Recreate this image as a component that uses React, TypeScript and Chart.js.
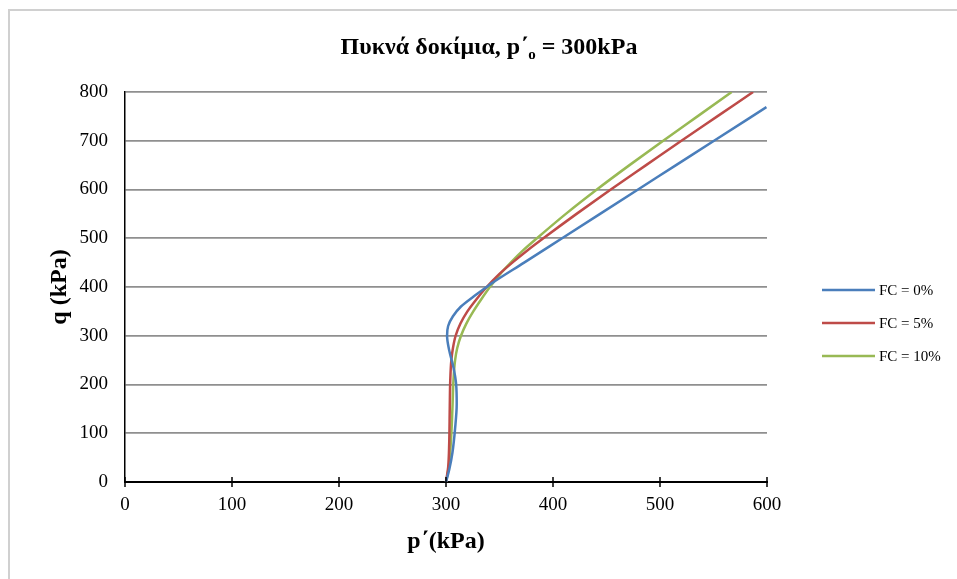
import React, { useEffect, useRef } from 'react';
import { Chart, registerables } from 'chart.js';

Chart.register(...registerables);

const FONT = "'Liberation Serif', 'Times New Roman', serif";

const seriesLabels = ['FC = 0%', 'FC = 5%', 'FC = 10%'];
const seriesColors = ['#4a7ebb', '#be4b48', '#98b954'];

// p' (kPa) and q (kPa) for each series
const pFC0 = [300, 303, 306, 308.5, 310, 309.5, 307, 303, 301, 302, 306.5, 314, 325.5, 338, 343, 373, 408.5, 444, 479.5, 515, 550.5, 599.5];
const qFC0 = [0, 25, 60, 110, 160, 200, 235, 270, 300, 320, 340, 360, 380, 400, 408, 450, 500, 550, 600, 650, 700, 769];

const pFC5 = [300, 302, 303, 303.5, 304, 305, 306.5, 309, 313.5, 320, 328.5, 338, 349, 362, 376, 391, 422, 454, 487, 520, 553.5, 587];
const qFC5 = [0, 30, 80, 150, 210, 250, 275, 300, 325, 350, 375, 400, 425, 450, 475, 500, 550, 600, 650, 700, 750, 800];

const pFC10 = [300, 302.5, 304.5, 306, 307, 308.5, 310.5, 314, 319, 325.5, 333, 341, 350, 360.5, 372, 385, 412, 441, 471.5, 503, 535, 567];
const qFC10 = [0, 30, 80, 150, 210, 250, 275, 300, 325, 350, 375, 400, 425, 450, 475, 500, 550, 600, 650, 700, 750, 800];

const xMin = 0, xMax = 600, xStep = 100;
const yMin = 0, yMax = 800, yStep = 100;

const titleMain = 'Πυκνά δοκίμια, p΄';
const titleSub = 'o';
const titleEnd = ' = 300kPa';
const xTitle = 'p΄(kPa)';
const yTitle = 'q (kPa)';

const toPoints = (p: number[], q: number[]) => p.map((v, i) => ({ x: v, y: q[i] }));

const decorPlugin = {
  id: 'decor',
  afterDraw(chart: any) {
    const { ctx, chartArea, scales } = chart;
    ctx.save();
    // crossing tick marks on x axis
    ctx.strokeStyle = '#000';
    ctx.lineWidth = 1.5;
    const xs = scales.x;
    xs.ticks.forEach((t: any) => {
      const px = xs.getPixelForValue(t.value);
      ctx.beginPath();
      ctx.moveTo(px, chartArea.bottom - 5);
      ctx.lineTo(px, chartArea.bottom + 5);
      ctx.stroke();
    });

    // title with subscript
    const mainFont = `bold 24px ${FONT}`;
    const subFont = `bold 15px ${FONT}`;
    ctx.fillStyle = '#000';
    ctx.textBaseline = 'alphabetic';
    ctx.font = mainFont;
    const w1 = ctx.measureText(titleMain).width;
    const w3 = ctx.measureText(titleEnd).width;
    ctx.font = subFont;
    const w2 = ctx.measureText(titleSub).width;
    const total = w1 + w2 + w3;
    const cx = 479;
    const baseY = 43;
    let x = cx - total / 2;
    ctx.textAlign = 'left';
    ctx.font = mainFont;
    ctx.fillText(titleMain, x, baseY);
    x += w1;
    ctx.font = subFont;
    ctx.fillText(titleSub, x, baseY + 5);
    x += w2;
    ctx.font = mainFont;
    ctx.fillText(titleEnd, x, baseY);

    // legend
    const lx = 812, lLen = 53, ly0 = 279, lStep = 33;
    ctx.font = `15px ${FONT}`;
    ctx.textBaseline = 'middle';
    chart.data.datasets.forEach((ds: any, i: number) => {
      const y = ly0 + i * lStep;
      ctx.strokeStyle = ds.borderColor;
      ctx.lineWidth = 2.5;
      ctx.beginPath();
      ctx.moveTo(lx, y);
      ctx.lineTo(lx + lLen, y);
      ctx.stroke();
      ctx.fillStyle = '#000';
      ctx.fillText(ds.label, lx + lLen + 4, y + 1);
    });
    ctx.restore();
  },
};

export default function App() {
  const ref = useRef<HTMLCanvasElement>(null);

  useEffect(() => {
    if (!ref.current) return;
    const chart = new Chart(ref.current, {
      type: 'line',
      data: {
        datasets: [
          { label: seriesLabels[0], data: toPoints(pFC0, qFC0), borderColor: seriesColors[0], backgroundColor: seriesColors[0] },
          { label: seriesLabels[1], data: toPoints(pFC5, qFC5), borderColor: seriesColors[1], backgroundColor: seriesColors[1] },
          { label: seriesLabels[2], data: toPoints(pFC10, qFC10), borderColor: seriesColors[2], backgroundColor: seriesColors[2] },
        ].map((d) => ({ ...d, pointRadius: 0, borderWidth: 2.5, cubicInterpolationMode: 'monotone', fill: false })),
      },
      options: {
        animation: false,
        responsive: true,
        maintainAspectRatio: false,
        indexAxis: 'y',
        layout: { padding: { left: 0, top: 81, right: 190, bottom: 0 } },
        plugins: {
          legend: { display: false },
          title: { display: false },
          tooltip: { enabled: false },
        },
        scales: {
          x: {
            type: 'linear',
            position: 'bottom',
            min: xMin,
            max: xMax,
            afterFit: (s: any) => { s.height = 97; },
            ticks: { stepSize: xStep, color: '#000', font: { family: FONT, size: 19 }, padding: 12, maxRotation: 0 },
            grid: { display: false, drawTicks: false },
            border: { display: true, color: '#000', width: 2 },
            title: { display: true, text: xTitle, color: '#000', font: { family: FONT, size: 24, weight: 'bold' }, padding: { top: 0, bottom: 23 } },
          },
          y: {
            type: 'linear',
            position: 'left',
            min: yMin,
            max: yMax,
            afterFit: (s: any) => { s.width = 115; },
            ticks: { stepSize: yStep, color: '#000', font: { family: FONT, size: 19 }, padding: 17 },
            grid: { color: '#8f8f8f', lineWidth: 1.8, drawTicks: false },
            border: { display: true, color: '#000', width: 1.5 },
            title: { display: true, text: yTitle, color: '#000', font: { family: FONT, size: 24, weight: 'bold' }, padding: { top: 35, bottom: 0 } },
          },
        },
      },
      plugins: [decorPlugin],
    } as any);
    return () => chart.destroy();
  }, []);

  return (
    <div
      style={{
        position: 'absolute',
        left: 8,
        top: 9,
        width: 949,
        height: 570,
        boxSizing: 'border-box',
        borderLeft: '2px solid #d0d0d0',
        borderTop: '2px solid #d0d0d0',
        background: '#fff',
      }}
    >
      <canvas ref={ref} />
    </div>
  );
}
